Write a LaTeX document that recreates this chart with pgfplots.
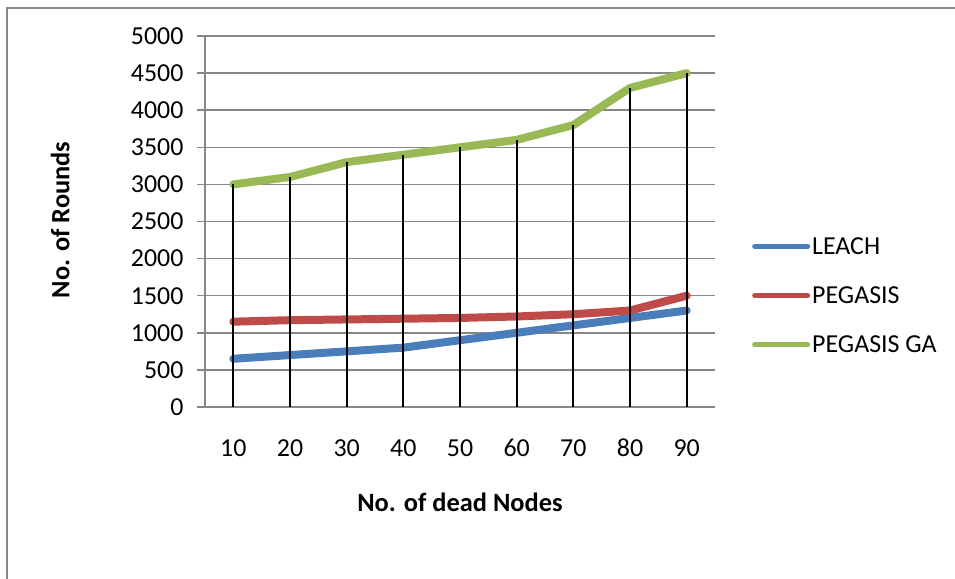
\documentclass[border=0pt]{standalone}
\usepackage{fontspec}
\setmainfont{Carlito}
\usepackage{pgfplots}
\pgfplotsset{compat=1.18}
\definecolor{xlblue}{HTML}{4A7EBB}
\definecolor{xlred}{HTML}{BE4B48}
\definecolor{xlgreen}{HTML}{98B954}
\definecolor{xlgrid}{HTML}{878787}
\begin{document}
\begin{tikzpicture}
\path[use as bounding box] (0,0) rectangle (955bp,579bp);
\draw[xlgrid, line width=1.5bp] (7bp,0) -- (7bp,571bp) -- (956bp,571bp);
\begin{axis}[
  at={(205bp,172bp)}, anchor=south west,
  scale only axis, width=510bp, height=371bp,
  xmin=-0.5, xmax=8.5, ymin=0, ymax=5000,
  xtick={0,...,8}, xticklabels={10,20,30,40,50,60,70,80,90},
  ytick={0,500,...,5000},
  axis x line*=bottom, axis y line*=left,
  axis line style={xlgrid, line width=1.5bp, -},
  x axis line style={shorten <=-8bp},
  ymajorgrids, grid style={xlgrid, line width=1.5bp},
  major x tick style={draw=none},
  major y tick style={xlgrid, line width=1.5bp},
  tick align=outside, major tick length=8bp,
  /pgf/number format/assume math mode=true,
  /pgf/number format/1000 sep={},
  ticklabel style={font=\fontsize{26}{30}\selectfont, black},
  xticklabel style={yshift=-21bp, text height=17bp, text depth=0pt},
  yticklabel style={xshift=-10bp},
  xlabel={No. of dead Nodes}, ylabel={No. of Rounds},
  label style={font=\fontsize{26.5}{30}\selectfont\bfseries},
  xlabel style={at={(axis description cs:0.5,-0.256)}, anchor=center},
  ylabel style={at={(axis description cs:-0.284,0.504)}, anchor=center, rotate=0},
  legend style={at={(axis description cs:1.0725,0.4636)}, anchor=north west, draw=none, fill=none,
    font=\fontsize{26}{30}\selectfont, row sep=27bp, inner sep=0pt},
  legend cell align=left,
  legend image code/.code={\draw[#1, line width=5bp, line cap=round] (0bp,0bp) -- (53bp,0bp);},
  clip=false,
]
\addplot[xlblue, line width=8bp, line cap=round, line join=round] coordinates {
(0,650) (1,700) (2,750) (3,800) (4,900) (5,1000) (6,1100) (7,1200) (8,1300)};
\addlegendentry{LEACH}
\addplot[xlred, line width=8bp, line cap=round, line join=round] coordinates {
(0,1150) (1,1170) (2,1180) (3,1190) (4,1200) (5,1220) (6,1250) (7,1300) (8,1500)};
\addlegendentry{PEGASIS}
\addplot[xlgreen, line width=8bp, line cap=round, line join=round] coordinates {
(0,3000) (1,3100) (2,3300) (3,3400) (4,3500) (5,3600) (6,3800) (7,4300) (8,4500)};
\addlegendentry{PEGASIS GA}
\addplot[ycomb, black, line width=2bp, forget plot] coordinates {
(0,3000) (1,3100) (2,3300) (3,3400) (4,3500) (5,3600) (6,3800) (7,4300) (8,4500)};
\end{axis}
\end{tikzpicture}
\end{document}
